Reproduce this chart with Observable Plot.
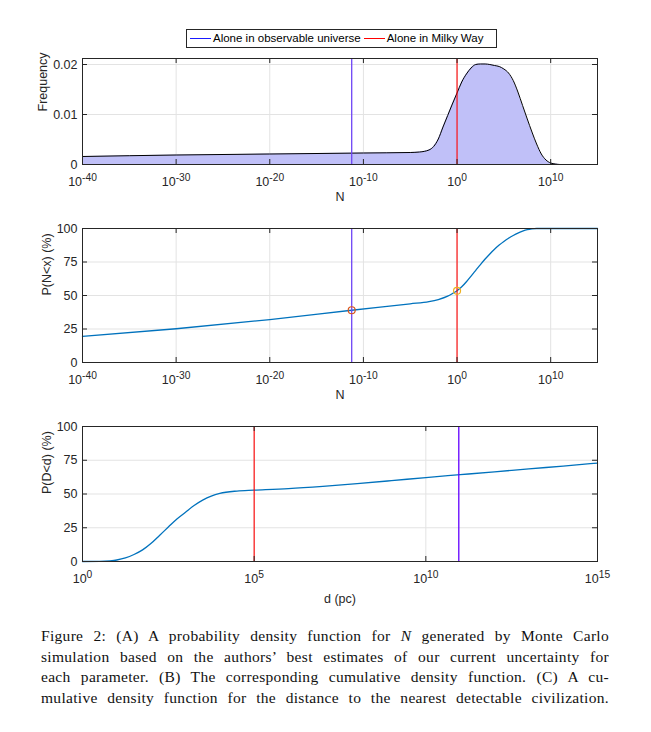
<!DOCTYPE html>
<html>
<head>
<meta charset="utf-8">
<script src="https://cdn.jsdelivr.net/npm/d3@7"></script>
<script src="https://cdn.jsdelivr.net/npm/@observablehq/plot@0.6"></script>
<style>
  body { margin: 0; background: #fff; }
  #fig { position: relative; width: 651px; height: 732px; overflow: hidden; font-family: "Liberation Sans", Arial, sans-serif; }
  .panel { position: absolute; left: 0; }
  #legend { position: absolute; left: 186px; top: 29px; width: 309px; height: 17px; border: 1px solid #262626; background: #fff;
            font-size: 11.5px; line-height: 17px; color: #000; white-space: nowrap; }
  #legend .sw { display: inline-block; width: 21px; height: 0; border-top: 1px solid; vertical-align: middle; margin: 0 2px 0 3px; }
  #caption { position: absolute; left: 41px; top: 626px; width: 568px; font-family: "Liberation Serif", "Times New Roman", serif;
             font-size: 15.5px; letter-spacing: 0.3px; word-spacing: 0.5px; line-height: 20.7px; color: #111; }
  #caption div { text-align: justify; text-align-last: justify; white-space: nowrap; }
</style>
</head>
<body>
<div id="fig">
  <div id="legend"></div>
  <div id="pA" class="panel"></div>
  <div id="pB" class="panel"></div>
  <div id="pC" class="panel"></div>
  <div id="caption"></div>
</div>
<script>
// ---------- data ----------
const nTickExp = [-40, -30, -20, -10, 0, 10];
const dTickExp = [0, 5, 10, 15];
const freqTicks = [0, 0.01, 0.02];
const pctTicks = [0, 25, 50, 75, 100];

const legendLabels = ["Alone in observable universe", "Alone in Milky Way"];
const legendColors = ["#1a1aff", "#ff0000"];

// (A) probability density of N (exponent of 10, frequency)
const pdfExp  = [-40, -30, -20, -10, -5, -4, -3, -2.5, -2, -1.5, -1, -0.5, 0, 0.5, 1, 1.5, 2, 2.5, 3, 3.5, 4, 4.5, 5, 5.5, 6, 6.5, 7, 7.5, 8, 8.5, 9, 9.5, 10, 10.5, 11, 15];
const pdfFreq = [0.0016, 0.0019, 0.0021, 0.0023, 0.0024, 0.0025, 0.0029, 0.0036, 0.0051, 0.0075, 0.0098, 0.0121, 0.0143, 0.0165, 0.0181, 0.0193, 0.0200, 0.0201, 0.0201, 0.0200, 0.0198, 0.0196, 0.0191, 0.0183, 0.0168, 0.0145, 0.0118, 0.0091, 0.0065, 0.0041, 0.0021, 0.0009, 0.0003, 0.0001, 0, 0];

// (B) cumulative distribution of N (%)
const cdfNExp = [-40, -30, -20, -11.25, -5, -3, -2, -1, -0.5, 0, 0.5, 1, 1.5, 2, 2.5, 3, 3.5, 4, 4.5, 5, 5.5, 6, 6.5, 7, 7.5, 8, 8.5, 15];
const cdfNPct = [19.5, 25.2, 32, 39, 43.8, 45.4, 47, 49.5, 51.4, 53.5, 56.5, 60.3, 64.5, 68.8, 73.1, 77.2, 81, 84.5, 87.6, 90.3, 92.7, 94.8, 96.6, 98, 99.1, 99.7, 100, 100];

// (C) cumulative distribution of distance d (pc, exponent of 10) (%)
const cdfDExp = [0, 0.5, 0.8, 1, 1.25, 1.5, 1.75, 2, 2.25, 2.5, 2.75, 3, 3.25, 3.5, 3.75, 4, 4.5, 5, 6, 7, 8, 9, 10, 11, 12, 13, 14, 15];
const cdfDPct = [0, 0.1, 0.5, 1.1, 2.6, 5.2, 8.6, 13.5, 19.5, 25.5, 31.5, 36.5, 41.5, 45.5, 48.5, 50.5, 52.2, 52.8, 54, 55.7, 57.7, 59.9, 62.2, 64.3, 66.4, 68.6, 70.7, 72.9];

// reference thresholds (exponents of 10)
const universeNExp = -11.25, milkyWayNExp = 0;
const universeDExp = 10.96, milkyWayDExp = 5;
const markerPct = [39, 53.5];
const markerColors = ["#D95319", "#EDB120"];

const captionLines = [
  "Figure 2: (A) A probability density function for <i>N</i> generated by Monte Carlo",
  "simulation based on the authors’ best estimates of our current uncertainty for",
  "each parameter. (B) The corresponding cumulative density function. (C) A cu-",
  "mulative density function for the distance to the nearest detectable civilization."
];

// ---------- build ----------
const FONT = "Liberation Sans, Arial, sans-serif";
const FS = 12.5;
const p10 = e => Math.pow(10, e);
const pdfData = pdfExp.map((e, i) => ({x: p10(e), y: pdfFreq[i]}));
const cdfNData = cdfNExp.map((e, i) => ({x: p10(e), y: cdfNPct[i]}));
const cdfDData = cdfDExp.map((e, i) => ({x: p10(e), y: cdfDPct[i]}));
const markers = [
  {x: p10(universeNExp), y: markerPct[0], c: markerColors[0]},
  {x: p10(milkyWayNExp), y: markerPct[1], c: markerColors[1]}
];

document.getElementById("legend").innerHTML = legendLabels.map((l, i) =>
  `<span class="sw" style="border-color:${legendColors[i]}"></span>${l}`).join("");
document.getElementById("caption").innerHTML = captionLines.map(l => `<div>${l}</div>`).join("");

function superscripts(svg) {
  d3.select(svg).selectAll("text").each(function () {
    const t = this.textContent;
    if (!t.includes("^")) return;
    const [b, e] = t.split("^");
    const s = d3.select(this);
    s.text(null);
    s.append("tspan").text(b);
    s.append("tspan").attr("dy", "-0.5em").attr("font-size", "0.82em").text(e);
  });
}

function panel(id, {top, height, mt, mb, xDomain, xTicks, yDomain, yTicks, yFmt, yLabel, yLabelDx, xLabel, xLabelDy, marks}) {
  const ml = 82, mr = 54, W = 651;
  const ph = height - mt - mb, pw = W - ml - mr;
  const grid = "#e3e3e3", ax = "#262626";
  const svg = Plot.plot({
    width: W, height, marginLeft: ml, marginRight: mr, marginTop: mt, marginBottom: mb,
    style: {fontFamily: FONT, fontSize: FS + "px", color: ax, background: "transparent", overflow: "visible"},
    x: {type: "log", domain: xDomain},
    y: {domain: yDomain},
    marks: [
      Plot.gridX(xTicks, {stroke: grid, strokeOpacity: 1}),
      Plot.gridY(yTicks, {stroke: grid, strokeOpacity: 1}),
      ...marks,
      Plot.ruleX(xTicks, {stroke: ax, insetTop: ph - 5}),
      Plot.ruleX(xTicks, {stroke: ax, insetBottom: ph - 5}),
      Plot.ruleY(yTicks, {stroke: ax, insetRight: pw - 5}),
      Plot.ruleY(yTicks, {stroke: ax, insetLeft: pw - 5}),
      Plot.frame({stroke: ax}),
      Plot.axisX(xTicks, {tickSize: 0, tickPadding: 13, label: null, fill: ax, fontSize: FS,
        tickFormat: d => "10^" + Math.round(Math.log10(d))}),
      Plot.axisY(yTicks, {tickSize: 0, tickPadding: 5, label: null, fill: ax, fontSize: FS, tickFormat: yFmt}),
      Plot.text([xLabel], {frameAnchor: "bottom", dy: xLabelDy, fill: ax, fontSize: FS}),
      Plot.text([yLabel], {frameAnchor: "left", dx: yLabelDx, rotate: -90, fill: ax, fontSize: FS})
    ]
  });
  superscripts(svg);
  const host = document.getElementById(id);
  host.style.top = top + "px";
  host.appendChild(svg);
}

const nTicks = nTickExp.map(p10);
const dTicks = dTickExp.map(p10);
const nDomain = [p10(-40), p10(15)];

panel("pA", {
  top: 50, height: 160, mt: 8, mb: 46,
  xDomain: nDomain, xTicks: nTicks, yDomain: [0, 0.0212], yTicks: freqTicks,
  yFmt: d => String(d), yLabel: "Frequency", yLabelDx: -39.5, xLabel: "N", xLabelDy: 36,
  marks: [
    Plot.areaY(pdfData, {x: "x", y: "y", fill: "#c0c0f8", curve: "monotone-x"}),
    Plot.lineY(pdfData, {x: "x", y: "y", stroke: "#000", strokeWidth: 1, curve: "monotone-x"}),
    Plot.ruleX([p10(universeNExp)], {stroke: "#6e45f5", strokeWidth: 1.3}),
    Plot.ruleX([p10(milkyWayNExp)], {stroke: "#ff0000", strokeWidth: 1.1})
  ]
});

panel("pB", {
  top: 215, height: 190, mt: 13, mb: 43,
  xDomain: nDomain, xTicks: nTicks, yDomain: [0, 100], yTicks: pctTicks,
  yFmt: d => String(d), yLabel: "P(N<x) (%)", yLabelDx: -36, xLabel: "N", xLabelDy: 36,
  marks: [
    Plot.lineY(cdfNData, {x: "x", y: "y", stroke: "#0072BD", strokeWidth: 1.3, curve: "monotone-x"}),
    Plot.ruleX([p10(universeNExp)], {stroke: "#6e45f5", strokeWidth: 1.3}),
    Plot.ruleX([p10(milkyWayNExp)], {stroke: "#ff0000", strokeWidth: 1.1}),
    Plot.dot(markers, {x: "x", y: "y", stroke: "c", r: 3.5, strokeWidth: 1.2, fill: "none"})
  ]
});

panel("pC", {
  top: 410, height: 210, mt: 16, mb: 59,
  xDomain: [p10(0), p10(15)], xTicks: dTicks, yDomain: [0, 100], yTicks: pctTicks,
  yFmt: d => String(d), yLabel: "P(D<d) (%)", yLabelDx: -36, xLabel: "d (pc)", xLabelDy: 41,
  marks: [
    Plot.lineY(cdfDData, {x: "x", y: "y", stroke: "#0072BD", strokeWidth: 1.3, curve: "monotone-x"}),
    Plot.ruleX([p10(milkyWayDExp)], {stroke: "#ff0000", strokeWidth: 1.1}),
    Plot.ruleX([p10(universeDExp)], {stroke: "#6200ff", strokeWidth: 1.3})
  ]
});
</script>
</body>
</html>
